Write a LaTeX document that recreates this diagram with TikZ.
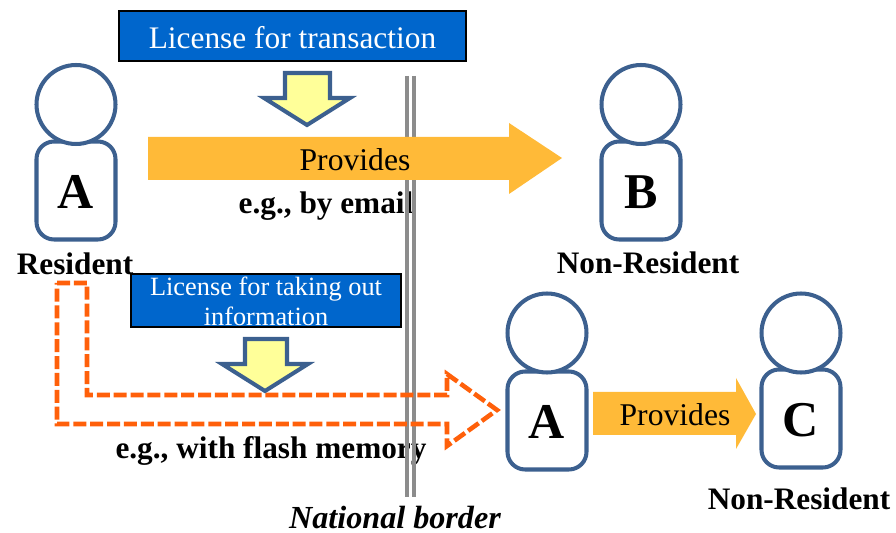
\documentclass[tikz,border=0pt]{standalone}
\usepackage{fontspec}
\setmainfont{Liberation Serif}
\usetikzlibrary{positioning}
\begin{document}
\begin{tikzpicture}[x=0.02cm,y=-0.02cm]
  % colors
  \definecolor{blueColor}{RGB}{0,102,204}
  \definecolor{personColor}{RGB}{60,96,143}
  \definecolor{sunColor}{RGB}{255,186,56}
  \definecolor{lemonColor}{RGB}{255,255,153}
  \definecolor{dashColor}{RGB}{255,96,10}
  \definecolor{borderColor}{RGB}{140,140,140}

  % common styles
  \tikzset{
    head/.style={circle, minimum size=1.58cm, inner sep=0pt, draw=personColor, line width=2.3pt},
    torso/.style={rectangle, rounded corners=10pt, minimum width=1.58cm, minimum height=1.96cm,
      inner sep=0pt, draw=personColor, line width=2.3pt, font=\fontsize{28.5}{30}\selectfont\bfseries},
    licence/.style={rectangle, draw=black, line width=1pt, fill=blueColor, text=white, inner sep=0pt,
      align=center, font=\fontsize{17.85}{18}\selectfont},
    tag/.style={inner sep=0pt, font=\fontsize{17.8}{18}\selectfont\bfseries},
    says/.style={inner sep=0pt, font=\fontsize{18}{18}\selectfont},
    bigarrow/.style={fill=sunColor},
    downarrow/.style={draw=personColor, fill=lemonColor, line width=2.3pt, miter limit=10},
    rail/.style={draw=borderColor, line width=1.9pt}
  }

  \useasboundingbox (0,0) rectangle (896,533);

  % labels under the arrows sit behind the border lines
  \node[tag] (mailNote)  at (326,206) {e.g., by email};
  \node[tag] (flashNote) at (271,451) {e.g., with flash memory};

  % national border
  \coordinate (railTopA) at (407,76);
  \coordinate (railEndA) at (407,497);
  \coordinate (railTopB) at (414,76);
  \coordinate (railEndB) at (414,497);
  \draw[rail] (railTopA) -- (railEndA);
  \draw[rail] (railTopB) -- (railEndB);
  \node[tag, font=\fontsize{18.3}{18}\selectfont\bfseries\itshape] (borderNote) at (395,518) {National border};

  % licence boxes
  \node[licence, minimum width=6.94cm, minimum height=1cm] (licenceTop) at (292.5,36) {\raisebox{-1pt}[\height][\depth]{License for transaction}};
  \node[licence, minimum width=5.4cm, minimum height=1.06cm, font=\fontsize{15}{17}\selectfont] (licenceLow) at (266,300.5) {\raisebox{-0.6pt}[\height][\depth]{License for taking out}\\\raisebox{-0.6pt}[\height][\depth]{information}};

  % big arrows
  \fill[bigarrow] (148,137) -- (509,137) -- (509,123) -- (562,158) -- (509,194) -- (509,180) -- (148,180) -- cycle;
  \fill[bigarrow] (593,392) -- (736,392) -- (736,378) -- (756,414) -- (736,449) -- (736,435) -- (593,435) -- cycle;
  \node[says] (providesTop) at (355,160) {Provides};
  \node[says] (providesLow) at (675,415) {Provides};

  % dashed arrow across the border
  \draw[dashColor, line width=2.6pt, dash pattern=on 7.4pt off 2.2pt]
    (57,283) -- (87,283) -- (87,395) -- (447,395) -- (447,374) -- (497,410) -- (447,446) -- (447,424) -- (57,424) -- cycle;

  % arrows from the licence boxes
  \filldraw[downarrow] (285,73) -- (330,73) -- (330,98) -- (350,98) -- (307,125) -- (264,98) -- (285,98) -- cycle;
  \filldraw[downarrow] (245,339) -- (287,339) -- (287,364) -- (308,364) -- (265,391) -- (222,364) -- (245,364) -- cycle;

  % persons
  \node[torso] (bodyA) at (76,190.5) {\raisebox{-0.8pt}[\height][\depth]{A}};
  \node[head, fill=white] (headA) at (76,104.5) {};
  \node[tag] (resident) at (75,264) {Resident};

  \node[torso] (bodyB) at (641,190.5) {\raisebox{-0.8pt}[\height][\depth]{B}};
  \node[head, fill=white] (headB) at (641,104.5) {};
  \node[tag] (nonResidentB) at (648,263) {Non-Resident};

  \node[torso] (bodyAlow) at (547,420.5) {\raisebox{-0.8pt}[\height][\depth]{A}};
  \node[head, fill=white] (headAlow) at (547,333) {};

  \node[torso] (bodyC) at (801,418.5) {\raisebox{-0.8pt}[\height][\depth]{C}};
  \node[head, fill=white] (headC) at (801,333) {};
  \node[tag] (nonResidentC) at (799,499) {Non-Resident};
\end{tikzpicture}
\end{document}
